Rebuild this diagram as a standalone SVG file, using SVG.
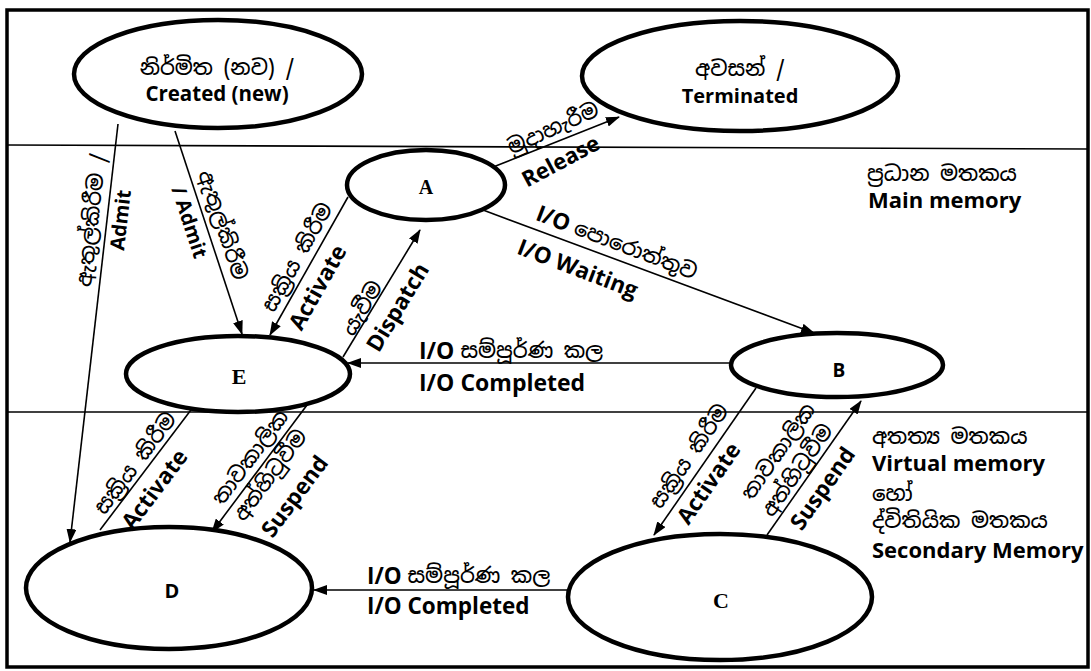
<svg xmlns="http://www.w3.org/2000/svg" width="1091" height="671" viewBox="0 0 1091 671">
<defs>
<marker id="ah" markerWidth="14" markerHeight="10" refX="13" refY="5" orient="auto" markerUnits="userSpaceOnUse">
<path d="M0,0 L14,5 L0,10 z" fill="#000"/>
</marker>
</defs>
<style>
.node{fill:#fff;stroke:#000;stroke-width:4.5}
.cn{fill:none;stroke:#000;stroke-width:1.6}
.ar{marker-end:url(#ah)}
.sep{stroke:#000;stroke-width:1.6}
.en{font-family:"Open Sans","Liberation Sans",sans-serif;font-weight:700;fill:#000}
.si{font-family:"Noto Sans Sinhala","Noto Sans","Liberation Sans",sans-serif;fill:#000;font-size:21px;font-weight:500}
.sf{font-family:"Liberation Serif",serif;font-weight:700;fill:#000}
.c{text-anchor:middle;dominant-baseline:central}
.l{dominant-baseline:central}
</style>
<rect x="0" y="0" width="1091" height="671" fill="#fff"/>
<rect x="7" y="10" width="1081" height="657" fill="none" stroke="#000" stroke-width="3.5"/>
<g id="separators">
<line class="sep" x1="7" y1="145" x2="1088" y2="149"/>
<line class="sep" x1="7" y1="412" x2="1088" y2="412"/>
</g>
<g id="connectors">
<line class="cn ar" x1="118" y1="124" x2="70" y2="542"/>
<line class="cn ar" x1="175" y1="131" x2="242" y2="334"/>
<line class="cn ar" x1="348" y1="197" x2="270" y2="335"/>
<line class="cn ar" x1="343" y1="357" x2="420" y2="230"/>
<line class="cn ar" x1="483" y1="171" x2="619" y2="117"/>
<line class="cn ar" x1="483" y1="210" x2="814" y2="333"/>
<line class="cn ar" x1="731" y1="363" x2="348" y2="363"/>
<line class="cn ar" x1="568" y1="590" x2="314" y2="590"/>
<line class="cn ar" x1="100" y1="530" x2="200" y2="398"/>
<line class="cn ar" x1="313" y1="397" x2="212" y2="532"/>
<line class="cn ar" x1="756" y1="388" x2="654" y2="535"/>
<line class="cn ar" x1="767" y1="535" x2="861" y2="401"/>
</g>
<g id="node-created">
<ellipse class="node" cx="218" cy="74" rx="144" ry="54"/>
<text class="si c" x="217" y="67">නිර්මිත (නව) /</text>
<text class="en c" x="217" y="93" font-size="20.5">Created (new)</text>
</g>
<g id="node-terminated">
<ellipse class="node" cx="740" cy="76" rx="158" ry="55"/>
<text class="si c" x="740" y="68">අවසන් /</text>
<text class="en c" x="740" y="95" font-size="20">Terminated</text>
</g>
<g id="node-A">
<ellipse class="node" cx="426" cy="185" rx="79" ry="35"/>
<text class="sf c" x="426" y="187" font-size="20">A</text>
</g>
<g id="node-E">
<ellipse class="node" cx="238" cy="374" rx="112" ry="38"/>
<text class="sf c" x="239" y="376" font-size="22">E</text>
</g>
<g id="node-B">
<ellipse class="node" cx="837" cy="365" rx="106" ry="32"/>
<text class="en c" x="839" y="370" font-size="19">B</text>
</g>
<g id="node-D">
<ellipse class="node" cx="169" cy="588" rx="143" ry="61"/>
<text class="en c" x="172" y="590" font-size="20">D</text>
</g>
<g id="node-C">
<ellipse class="node" cx="720" cy="597" rx="152" ry="63"/>
<text class="sf c" x="721" y="600" font-size="22">C</text>
</g>
<g id="labels">
<text class="si c" transform="translate(91,220) rotate(-83.5)">ඇතුල්කිරීම /</text>
<text class="en c" font-size="20" transform="translate(120,220) rotate(-83.5)">Admit</text>
<text class="si c" transform="translate(223,225) rotate(71.7)">ඇතුල්කිරීම</text>
<text class="en c" font-size="20" transform="translate(190,222) rotate(71.7)">/ Admit</text>
<text class="si c" transform="translate(297,257) rotate(-60.5)">සක්‍රිය කිරීම</text>
<text class="en c" font-size="22.5" transform="translate(317,287) rotate(-60.5)">Activate</text>
<text class="si c" transform="translate(362,308) rotate(-58.8)">යැවීම</text>
<text class="en c" font-size="22.5" transform="translate(397,307) rotate(-58.8)">Dispatch</text>
<text class="si c" transform="translate(553,128) rotate(-24)">මුදාහැරීම</text>
<text class="en c" font-size="22" transform="translate(560,160) rotate(-28)">Release</text>
<text class="en c" font-size="22.5" transform="translate(617,242) rotate(21)">I/O <tspan class="si">පොරොත්තුව</tspan></text>
<text class="en c" font-size="22.5" transform="translate(578,268) rotate(21)">I/O Waiting</text>
<text class="en l" font-size="23" x="419" y="350">I/O <tspan class="si">සම්පූර්ණ කල</tspan></text>
<text class="en l" font-size="23" x="419" y="382">I/O Completed</text>
<text class="en l" font-size="22.5" x="367" y="575">I/O <tspan class="si">සම්පූර්ණ කල</tspan></text>
<text class="en l" font-size="22.5" x="367" y="605">I/O Completed</text>
<text class="si c" transform="translate(135,463) rotate(-52.9)">සක්‍රිය කිරීම</text>
<text class="en c" font-size="22.5" transform="translate(154,489) rotate(-52.9)">Activate</text>
<text class="si c" transform="translate(250,457) rotate(-53.2)">තාවකාලික</text>
<text class="si c" transform="translate(270,475) rotate(-53.2)">අත්හිටුවීම</text>
<text class="en c" font-size="22.5" transform="translate(294,496) rotate(-53.2)">Suspend</text>
<text class="si c" transform="translate(689,456) rotate(-55.2)">සක්‍රිය කිරීම</text>
<text class="en c" font-size="22.5" transform="translate(708,483) rotate(-55.2)">Activate</text>
<text class="si c" transform="translate(778,451) rotate(-55)">තාවකාලික</text>
<text class="si c" transform="translate(797,470) rotate(-55)">අත්හිටුවීම</text>
<text class="en c" font-size="22.5" transform="translate(822,488) rotate(-55)">Suspend</text>
</g>
<g id="memory-labels">
<text class="si l" x="867" y="173">ප්‍රධාන මතකය</text>
<text class="en" font-size="22" x="868" y="208">Main memory</text>
<text class="si l" x="872" y="436">අතත්‍ය මතකය</text>
<text class="en" font-size="22" x="872" y="471">Virtual memory</text>
<text class="si l" x="872" y="493" font-size="19.5">හෝ</text>
<text class="si l" x="872" y="520" font-size="19.5">ද්විතියික මතකය</text>
<text class="en" font-size="22" x="872" y="558">Secondary Memory</text>
</g>
</svg>
